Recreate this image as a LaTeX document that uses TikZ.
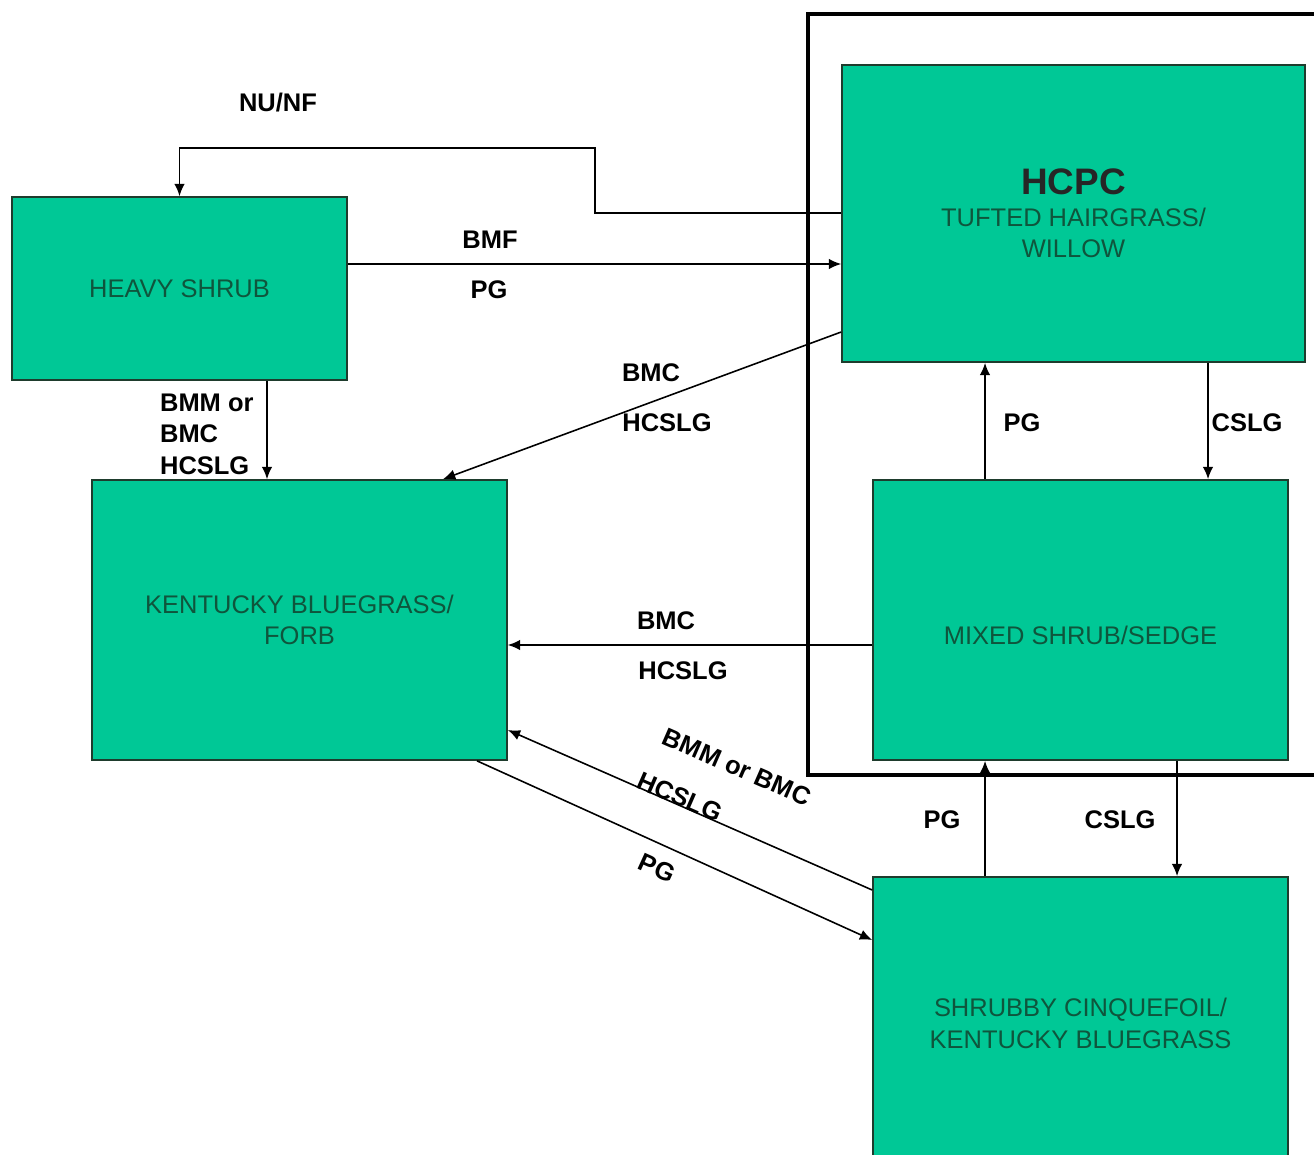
\documentclass[tikz,border=0pt]{standalone}
\usepackage{fontspec}
\setmainfont{Liberation Sans}
\usetikzlibrary{arrows.meta}

\definecolor{boxgreen}{RGB}{0,200,150}
\definecolor{boxtext}{RGB}{15,85,60}
\definecolor{boxline}{RGB}{30,60,45}

\tikzset{
  statebox/.style={draw=boxline, line width=1pt, fill=boxgreen, text=boxtext,
    align=center, inner sep=0pt, font=\fontsize{14.5}{18}\selectfont},
  arr/.style={line width=0.9pt, -{Latex[length=7pt,width=6pt]}},
  lab/.style={font=\bfseries\fontsize{14.5}{18}\selectfont, inner sep=1pt}
}

\begin{document}
\begin{tikzpicture}[x=0.02cm,y=-0.02cm]
\useasboundingbox[fill=white] (0,0) rectangle (1314,1155);

% frame round the reference states
\draw[line width=2.2pt] (1340,14) -| (808,775) -- (1340,775);

% states
\node[statebox, minimum width=9.26cm, minimum height=5.94cm] (hcpc) at (1073.5,213.5)
  {{\bfseries\fontsize{21}{24}\selectfont\color{black!85} HCPC}\\TUFTED HAIRGRASS/\\WILLOW};
\node[statebox, minimum width=6.7cm, minimum height=3.66cm] (heavy) at (179.5,288.5) {HEAVY SHRUB};
\node[statebox, minimum width=8.3cm, minimum height=5.6cm] (kent) at (299.5,620) {KENTUCKY BLUEGRASS/\\FORB};
\node[statebox, minimum width=8.3cm, minimum height=5.6cm] (mixed) at (1080.5,620) {\raisebox{-14pt}[0pt][0pt]{MIXED SHRUB/SEDGE}};
\node[statebox, minimum width=8.3cm, minimum height=5.86cm] (shrub) at (1080.5,1023.5) {SHRUBBY CINQUEFOIL/\\KENTUCKY BLUEGRASS};

% transitions
\draw[arr] (hcpc.west |- 0,213) -| (595,148) -| (heavy.north);
\draw[arr] (heavy.east |- 0,264) -- (hcpc.west |- 0,264);
\draw[arr] (hcpc.west |- 0,332) -- (kent.north -| 443,0);
\draw[arr] (heavy.south -| 267,0) -- (kent.north -| 267,0);
\draw[arr] (mixed.north -| 985,0) -- (hcpc.south -| 985,0);
\draw[arr] (hcpc.south -| 1208,0) -- (mixed.north -| 1208,0);
\draw[arr] (mixed.west |- 0,645) -- (kent.east |- 0,645);
\draw[arr] (shrub.west |- 0,890) -- (kent.east |- 0,730);
\draw[arr] (kent.south -| 477,0) -- (shrub.west |- 0,940);
\draw[arr] (shrub.north -| 985,0) -- (mixed.south -| 985,0);
\draw[arr] (mixed.south -| 1177,0) -- (shrub.north -| 1177,0);

% labels
\node[lab] (nunf) at (278,103) {NU/NF};
\node[lab] (bmf) at (490,240) {BMF};
\node[lab] (pgtop) at (489,290) {PG};
\node[lab, align=left, anchor=west] (heavylab) at (158,434) {BMM or\\BMC\\HCSLG};
\node[lab] (bmcup) at (651,373) {BMC};
\node[lab] (hcslgup) at (667,423) {HCSLG};
\node[lab] (pgmix) at (1022,423) {PG};
\node[lab] (cslgmix) at (1247,423) {CSLG};
\node[lab] (bmcmid) at (666,621) {BMC};
\node[lab] (hcslgmid) at (683,671) {HCSLG};
\node[lab, rotate=-23.6] (bmmlow) at (737,767) {BMM or BMC};
\node[lab, rotate=-23.6] (hcslglow) at (680,797) {HCSLG};
\node[lab, rotate=-24.4] (pglow) at (657,868) {PG};
\node[lab] (pgshrub) at (942,820) {PG};
\node[lab] (cslgshrub) at (1120,820) {CSLG};
\end{tikzpicture}
\end{document}
